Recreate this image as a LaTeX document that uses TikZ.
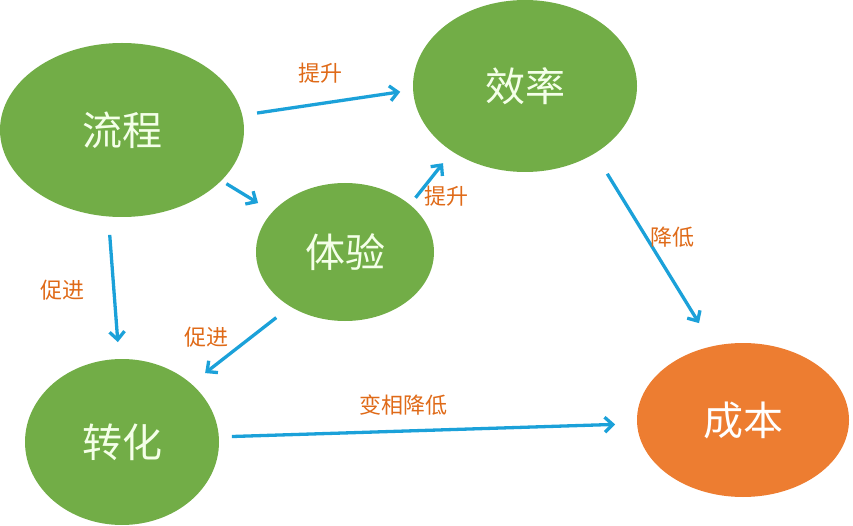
\documentclass[tikz,border=0pt]{standalone}
\usepackage{fontspec}
\setmainfont{Noto Sans CJK SC}
\usetikzlibrary{shapes.geometric,arrows.meta}
\definecolor{leaf}{HTML}{72AD47}
\definecolor{rust}{HTML}{ED7D31}
\definecolor{sky}{HTML}{1BA1D9}
\definecolor{lbl}{HTML}{DF6A18}
\definecolor{nodetxt}{HTML}{F4FFE8}
\tikzset{
  bubble/.style={ellipse, fill=leaf, draw=none, inner sep=0pt, outer sep=0pt,
    text=nodetxt, font=\fontsize{40}{44}\selectfont},
  hot/.style={bubble, fill=rust, text=white},
  link/.style={draw=sky, line width=3.3pt, -{Straight Barb[length=8pt,width=15pt,line width=3.3pt]}},
  tag/.style={text=lbl, font=\fontsize{22}{24}\selectfont, inner sep=0pt}
}
\begin{document}
\begin{tikzpicture}[x=1pt,y=-1pt]
\useasboundingbox (0,0) rectangle (853,526);
\node[bubble, minimum width=244pt, minimum height=174pt] (lc) at (122,130) {流程};
\node[bubble, minimum width=224pt, minimum height=172pt] (xl) at (525,86) {效率};
\node[bubble, minimum width=178pt, minimum height=138pt] (ty) at (345,252) {体验};
\node[bubble, minimum width=194pt, minimum height=166pt] (zh) at (122,442) {转化};
\node[hot, minimum width=212pt, minimum height=154pt] (cb) at (743,420) {成本};

\draw[link, shorten <=15pt, shorten >=13pt] (lc.7) -- (xl.182.1);
\draw[link, shorten <=6pt, shorten >=17pt] (lc.333.3) -- (ty.151.3);
\draw[link, shorten <=9pt, shorten >=15pt] (ty.36.7) -- (xl.222.1);
\draw[link, shorten <=18.5pt, shorten >=17pt] (lc.261.3) -- (zh.92.7);
\draw[link, shorten <=18pt, shorten >=17.6pt] (ty.225.7) -- (zh.40.2);
\draw[link, shorten <=24pt, shorten >=27pt] (xl.316.8) -- (cb.112.8);
\draw[link, shorten <=13pt, shorten >=22pt] (zh.3.2) -- (cb.182.9);

\node[tag] (t1) at (320,73) {提升};
\node[tag] (t2) at (446,196) {提升};
\node[tag] (t3) at (62,290) {促进};
\node[tag] (t4) at (206,337) {促进};
\node[tag] (t5) at (672,237) {降低};
\node[tag] (t6) at (403,405) {变相降低};
\end{tikzpicture}
\end{document}
